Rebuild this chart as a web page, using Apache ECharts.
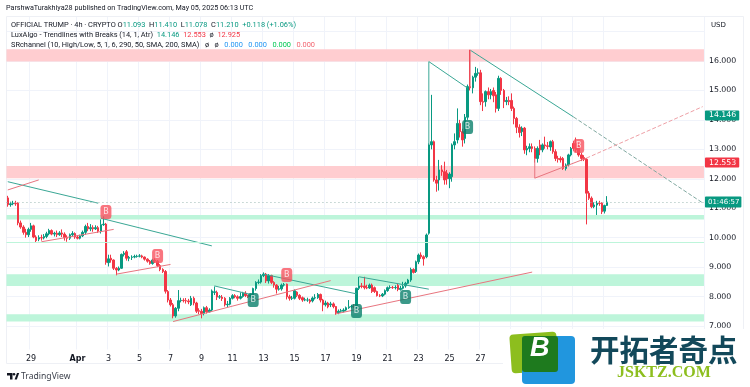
<!DOCTYPE html>
<html><head><meta charset="utf-8">
<style>html,body{margin:0;padding:0;background:#fff}#c{width:750px;height:387px}</style>
<script src="https://cdn.jsdelivr.net/npm/echarts@6/dist/echarts.min.js"></script>
</head><body><div id="c"></div>
<script>
// Each bar: [open, close, high, low], 4h candles.
const barsLateMarch = [
[11.35,11.12,11.42,11.05],[11.12,11.15,11.22,11.05],[11.15,11.17,11.25,11.10],[11.17,11.15,11.25,11.08],
[11.17,10.5,11.2,10.42],[10.5,10.36,10.58,10.3],[10.36,10.18,10.42,10.1],[10.18,10.1,10.3,10.0],
[10.1,10.28,10.34,10.02],[10.28,10.4,10.5,10.2],[10.4,10.02,10.44,9.98],[10.02,9.9,10.08,9.82],
[9.95,10.0,10.08,9.88],[10.0,9.99,10.1,9.9],[9.99,10.04,10.12,9.94],[10.04,10.13,10.2,9.98],
[10.13,10.24,10.3,10.08],[10.24,10.12,10.28,10.08],[10.12,10.15,10.2,10.04],[10.15,10.1,10.24,10.02],
[10.1,10.16,10.22,10.06],[10.16,10.12,10.28,10.02],[10.12,10.0,10.18,9.9],[10.0,9.98,10.08,9.86],
[9.98,10.1,10.14,9.92],[10.1,10.14,10.22,10.04],[10.14,10.02,10.18,9.96]];
const barsEarlyApril = [
[10.02,9.98,10.08,9.94],[9.98,10.06,10.1,9.94],[10.06,10.18,10.24,10.02],[10.18,10.38,10.44,10.1],
[10.38,10.3,10.5,10.22],[10.3,10.34,10.46,10.22],[10.34,10.3,10.42,10.2],[10.3,10.34,10.42,10.26],
[10.34,10.22,10.4,10.16],[10.22,10.44,10.62,10.14],[10.44,10.46,10.72,10.4],[10.46,9.16,10.5,9.08],
[9.15,9.28,9.42,9.02],[9.3,9.24,9.42,9.15],[9.24,8.96,9.26,8.9],[8.96,8.9,9.0,8.72],
[8.9,8.96,9.02,8.86],[8.96,9.43,9.46,8.94],[9.43,9.47,9.54,9.36],[9.52,9.3,9.58,9.22],
[9.3,9.33,9.38,9.2],[9.33,9.34,9.4,9.24],[9.34,9.36,9.42,9.3],[9.36,9.37,9.42,9.32],
[9.37,9.38,9.44,9.33],[9.38,9.34,9.42,9.3],[9.34,9.27,9.36,9.22],[9.27,9.2,9.3,9.15],
[9.2,9.12,9.24,9.08],[9.12,9.24,9.28,9.08],[9.24,9.2,9.3,9.14],[9.2,9.05,9.24,9.0],
[9.05,8.92,9.1,8.86],[8.92,8.85,8.96,8.8],[8.85,8.18,8.9,8.1],[8.17,7.88,8.22,7.8],
[7.88,7.72,7.95,7.66],[7.72,7.34,7.78,7.26],[7.34,7.6,7.64,7.28],[7.6,7.86,8.22,7.5],
[7.86,7.87,7.96,7.8],[7.87,7.86,7.94,7.8],[7.86,7.85,7.95,7.76],[7.85,7.82,7.92,7.74],
[7.72,7.94,8.02,7.68],[7.94,7.78,8.0,7.7],[7.78,7.5,7.82,7.44],[7.52,7.5,7.6,7.4],
[7.5,7.42,7.58,7.26],[7.42,7.62,7.66,7.36],[7.62,7.48,7.68,7.42],[7.48,7.54,7.6,7.46],
[7.54,8.19,8.24,7.5]];
const barsMidApril = [
[8.14,8.16,8.34,8.05],[8.14,7.98,8.2,7.88],[7.98,7.99,8.05,7.92],[7.98,7.93,8.05,7.85],
[7.94,7.72,7.98,7.66],[7.72,7.74,7.85,7.64],[7.74,7.94,7.98,7.7],[7.94,8.03,8.08,7.9],
[8.03,7.99,8.08,7.94],[7.99,7.94,8.04,7.86],[7.94,8.0,8.14,7.9],[8.0,8.11,8.16,7.96],
[8.11,8.03,8.18,7.98],[8.03,8.0,8.06,7.95],[8.0,8.05,8.1,7.96],[8.05,8.27,8.3,8.0],
[8.27,8.48,8.52,8.2],[8.48,8.49,8.58,8.42],[8.49,8.71,8.76,8.44],[8.71,8.76,8.82,8.66],
[8.76,8.53,8.8,8.46],[8.53,8.71,8.76,8.44],[8.71,8.48,8.74,8.42],[8.48,8.39,8.52,8.3],
[8.39,8.25,8.42,8.1],[8.25,8.26,8.36,8.2],[8.26,8.39,8.44,8.2],[8.39,8.4,8.46,8.34],
[8.42,7.99,8.44,7.9],[7.99,7.94,8.06,7.86],[7.94,7.95,8.02,7.88],[7.94,8.2,8.24,7.9],
[8.15,8.04,8.18,7.98],[8.04,7.94,8.08,7.88],[7.96,7.88,8.0,7.82],[7.88,7.89,7.96,7.84],
[7.88,7.88,7.96,7.82],[7.88,7.82,7.92,7.76],[7.85,7.95,8.0,7.8],[7.95,7.96,8.08,7.9],
[7.96,8.07,8.12,7.92],[8.07,7.88,8.1,7.8],[7.88,7.72,7.92,7.5],[7.72,7.78,7.86,7.66],
[7.78,7.65,7.82,7.6]];
const barsLateApril = [
[7.72,7.75,7.82,7.64],[7.75,7.66,7.8,7.6],[7.66,7.45,7.68,7.38],[7.45,7.5,7.56,7.4],
[7.5,7.52,7.58,7.45],[7.5,7.54,7.6,7.46],[7.54,7.62,7.66,7.5],[7.62,7.65,7.88,7.58],
[7.65,7.66,7.72,7.6],[7.66,7.65,7.74,7.6],[7.65,8.28,8.3,7.6],[8.28,8.36,8.67,8.22],
[8.36,8.34,8.46,8.28],[8.36,8.3,8.67,8.24],[8.3,8.29,8.4,8.25],[8.29,8.39,8.44,8.26],
[8.39,8.17,8.44,8.12],[8.3,8.17,8.34,8.12],[8.17,8.03,8.2,8.0],[8.03,8.02,8.08,7.98],
[8.02,8.08,8.12,7.98],[8.08,8.2,8.24,8.04],[8.2,8.3,8.34,8.16],[8.3,8.31,8.38,8.26],
[8.31,8.3,8.36,8.26],[8.3,8.31,8.38,8.24],[8.38,8.24,8.44,8.18],[8.24,8.28,8.36,8.2],
[8.28,8.34,8.5,8.24],[8.36,8.45,8.5,8.3],[8.45,8.56,8.6,8.42],[8.56,8.92,8.98,8.5],
[8.92,8.82,8.96,8.78],[8.85,9.18,9.22,8.8],[9.18,9.41,9.46,9.1],[9.41,9.35,9.5,9.28],
[9.35,9.28,9.4,9.05]];
const barsPump = [
[9.35,10.09,10.14,9.3],[10.15,13.15,13.2,10.1],[13.15,13.26,14.85,13.0],[13.26,11.96,13.3,11.9],
[11.96,11.85,12.1,11.56],[11.96,12.3,12.64,11.6],[12.3,12.24,12.46,12.1],[12.24,11.96,12.58,11.8],
[12.19,12.0,12.3,11.8],[12.0,12.16,12.22,11.68],[12.07,13.15,13.2,11.9],[13.15,13.26,13.54,13.0],
[13.32,13.88,14.39,13.2],[13.88,13.6,14.0,13.4],[13.6,13.32,13.7,13.09],[13.37,14.09,14.2,13.2],
[14.09,15.13,15.2,14.0],[15.13,15.09,16.38,15.0],[15.09,15.45,15.5,14.9],[15.45,15.58,15.8,15.3],
[15.58,15.6,15.75,15.5],[15.6,14.62,15.7,14.5],[14.62,14.6,14.9,14.3],[14.62,14.96,15.0,14.45],
[14.96,14.85,15.1,14.7],[14.85,14.96,15.05,14.7],[15.0,14.82,15.1,14.6],[14.85,14.39,14.95,14.25],
[14.39,15.41,15.5,14.3],[15.41,15.0,15.45,14.85],[15.0,14.62,15.05,14.4],[14.62,14.66,14.78,14.5],
[14.66,14.62,14.8,14.5],[14.66,14.39,14.9,14.3],[14.39,14.05,14.45,13.85],[14.05,13.75,14.1,13.55],
[13.75,13.57,13.85,13.4],[13.6,13.72,13.78,13.45],[13.72,12.98,13.76,12.85],[12.98,13.03,13.12,12.8],
[13.03,13.09,13.2,12.9],[13.09,13.03,13.2,12.9],[13.03,12.69,13.1,12.55]];
const barsEarlyMay = [
[12.69,13.03,13.1,12.55],[13.15,12.98,13.32,12.8],[12.98,13.15,13.2,12.9],[13.15,13.12,13.43,13.02],
[13.12,13.1,13.25,13.0],[13.08,13.26,13.3,12.95],[13.26,12.92,13.32,12.85],[12.92,12.69,13.0,12.6],
[12.69,12.66,12.78,12.55],[12.69,12.64,12.76,12.55],[12.69,12.35,12.74,12.3],[12.35,12.47,12.52,12.28],
[12.47,12.81,12.85,12.42],[12.81,13.03,13.08,12.76],[13.2,13.03,13.28,12.95],[13.2,12.98,13.4,12.9],
[13.1,12.81,13.2,12.75],[12.81,12.69,12.88,12.6],[12.72,12.66,12.8,12.6],[12.66,11.51,12.7,10.45],
[11.51,11.34,11.58,11.28],[11.34,11.05,11.4,11.0],[11.05,11.11,11.2,11.0],[11.11,11.17,11.25,10.77],
[11.17,11.16,11.25,11.08],[11.17,10.88,11.2,10.8],[10.9,11.09,11.12,10.82],[11.093,11.21,11.41,11.078]];

const emptyFutureBars = 37;

// Tick labels on the time scale, with the bar each falls on.
const tickBars   = [9,27,39,51,63,75,87,99,111,123,135,147,159,171,183,195,207,219,231];
const tickLabels = ['29','Apr','3','5','7','9','11','13','15','17','19','21','23','25','27','29','May','3','5'];
const priceGridValues  = [7,8,9,10,11,12,13,14,15,16,17];
const priceLabelValues = [7,8,9,10,11,12,13,14,15,16];

// Support / resistance channels [top, bottom]
const resistanceBands = [[16.40,15.98],[12.43,12.02]];
const supportBands    = [[10.77,10.62],[8.76,8.36],[7.40,7.15]];
const thinSupportLevel = 9.83;

// Trendlines as [bar, price]
const tealSolid = [
  [[0,11.90],[35,11.17]],
  [[36,10.66],[79,9.72]],
  [[80,8.36],[95,8.05]],
  [[99,8.76],[135,8.09]],
  [[136,8.67],[163,8.25]],
  [[163,13.15],[163,15.98],[178,15.08]],
  [[179,16.37],[219,14.10]]
];
const tealDashed = [[[219,14.10],[269,11.18]]];
const pinkSolid = [
  [[0,11.62],[12,11.96]],
  [[13,9.86],[41,10.28]],
  [[42,8.76],[63,9.09]],
  [[64,7.15],[125,8.54]],
  [[127,7.41],[203,8.83]],
  [[179,15.1],[179,16.37]],
  [[204,12.69],[204,12.02],[224,12.70]]
];
const pinkDashed = [[[224,12.70],[269,14.45]]];

// Break markers [bar, price]
const breakDown = [[38,10.87],[58,9.38],[108,8.73],[221,13.11]];
const breakUp   = [[95,7.88],[135,7.51],[154,7.98],[178,13.76]];

// Price tags on the scale
const upperTrendValue = 14.146, lowerTrendValue = 12.553, lastPrice = 11.21;
const countdown = '01:46:57';

const UP='#089981', DOWN='#F23645';
const TEXT_FONT='7.4px Roboto';
const bars = [].concat(barsLateMarch,barsEarlyApril,barsMidApril,barsLateApril,barsPump,barsEarlyMay);
const categories = [];
for (let i=0;i<bars.length+emptyFutureBars;i++) categories.push(String(i));
const tickLabelByBar = {}; tickBars.forEach((b,i)=>tickLabelByBar[b]=tickLabels[i]);
const isTick = i => tickLabelByBar[i] !== undefined;

function trendSeries(list,color,type,width,opacity){
  return list.map(d=>({type:'line',data:d,showSymbol:false,silent:true,z:4,animation:false,
    lineStyle:{color,width,type,opacity}}));
}
function breakSeries(data,color){
  return {type:'scatter',data,symbol:'roundRect',symbolSize:[11,14],z:6,silent:true,
    itemStyle:{color},
    label:{show:true,position:'inside',formatter:'B',color:'#fff',fontSize:8,fontFamily:'DejaVu Sans'}};
}
const tag=(v,text,bg,size,pad,line)=>({yAxis:v,label:{show:true,position:'end',distance:1,formatter:text,
  backgroundColor:bg,color:'#fff',fontSize:size,fontFamily:'DejaVu Sans',padding:pad,borderRadius:1},
  lineStyle:line||{color:'rgba(0,0,0,0)',width:1}});

const opt={
  animation:false,backgroundColor:'#fff',
  grid:{left:6.46,width:697.5,top:16.84,height:332.67,containLabel:false},
  xAxis:{type:'category',data:categories,boundaryGap:true,
    axisLine:{show:false},
    axisTick:{show:false,alignWithLabel:true,interval:i=>isTick(i)},
    splitLine:{show:true,interval:i=>isTick(i),lineStyle:{color:'#F0F3FA',width:1}},
    axisLabel:{interval:i=>isTick(i),margin:5,fontSize:8,color:'#131722',fontFamily:'DejaVu Sans',hideOverlap:false,
      formatter:v=>{const t=tickLabelByBar[+v];return t==='Apr'||t==='May'?'{b|'+t+'}':(t||'');},
      rich:{b:{fontWeight:'bold',fontSize:8,color:'#131722',fontFamily:'DejaVu Sans'}}}},
  yAxis:{type:'value',position:'right',min:6.2,max:17.5,scale:true,
    axisLine:{show:false},
    axisTick:{show:false,customValues:priceGridValues},
    splitLine:{show:true,lineStyle:{color:'#F0F3FA',width:1}},
    axisLabel:{customValues:priceLabelValues,margin:5,fontSize:7.8,color:'#131722',fontFamily:'DejaVu Sans',
      formatter:v=>Number(v).toFixed(3)}},
  series:[
    {type:'line',data:[],z:1,silent:true,markArea:{silent:true,itemStyle:{color:'#FFCDD0'},
      data:resistanceBands.map(b=>[{yAxis:b[0]},{yAxis:b[1]}])}},
    {type:'line',data:[],z:1,silent:true,markArea:{silent:true,itemStyle:{color:'#BDF5DA'},
      data:supportBands.map(b=>[{yAxis:b[0]},{yAxis:b[1]}])},
      markLine:{silent:true,symbol:'none',label:{show:false},lineStyle:{color:'#BDF5DA',width:1,type:'solid'},
        data:[{yAxis:thinSupportLevel}]}},
    {type:'candlestick',z:3,silent:true,barWidth:2,
      data:bars.map(b=>[b[0],b[1],b[3],b[2]]),
      itemStyle:{color:UP,color0:DOWN,borderColor:UP,borderColor0:DOWN,borderColorDoji:UP,borderWidth:1},
      markLine:{silent:true,symbol:'none',animation:false,z:7,
        label:{show:false},
        data:[
          tag(lastPrice,countdown,UP,7,[2,2,2,3],{color:'#9ab8b2',width:1,type:[1,3]}),
          tag(upperTrendValue,'14.146',UP,7.8,[1,3,1,4]),
          tag(lowerTrendValue,'12.553',DOWN,7.8,[1,3,1,4])
        ]}},
    ...trendSeries(tealSolid,'#3aa795','solid',1,1),
    ...trendSeries(tealDashed,'#7fa8a0','dashed',1,1),
    ...trendSeries(pinkSolid,'#e8757f','solid',1,1),
    ...trendSeries(pinkDashed,'#eea0a6','dashed',1,1),
    breakSeries(breakDown,'#F7525F'),
    breakSeries(breakUp,'#0A7F6C')
  ],
  graphic:{elements:[
    {type:'rect',z:1,silent:true,shape:{x:6.5,y:16.5,width:737,height:347},style:{fill:'none',stroke:'#EEF0F5',lineWidth:1}},
    {type:'text',z:20,x:6,y:5,style:{text:'ParshwaTurakhiya28 published on TradingView.com, May 05, 2025 06:13 UTC',fill:'#131722',font:'7.2px Roboto'}},
    {type:'text',z:20,x:11,y:22,style:{fill:'#131722',font:TEXT_FONT,
      text:'OFFICIAL TRUMP · 4h · CRYPTO O{g|11.093}  H{g|11.410}  L{g|11.078}  C{g|11.210}  {g|+0.118 (+1.06%)}',
      rich:{g:{fill:UP,font:TEXT_FONT}}}},
    {type:'text',z:20,x:11,y:32,style:{fill:'#131722',font:TEXT_FONT,
      text:'LuxAlgo - Trendlines with Breaks (14, 1, Atr)  {g|14.146}  {r|12.553}  ø  {r|12.925}',
      rich:{g:{fill:UP,font:TEXT_FONT},r:{fill:DOWN,font:TEXT_FONT}}}},
    {type:'text',z:20,x:11,y:42,style:{fill:'#131722',font:TEXT_FONT,
      text:'SRchannel (10, High/Low, 5, 1, 6, 290, 50, SMA, 200, SMA)   ø   ø   {b|0.000}   {b|0.000}   {g|0.000}   {r|0.000}',
      rich:{b:{fill:'#2196F3',font:TEXT_FONT},g:{fill:'#00C853',font:TEXT_FONT},r:{fill:'#F26570',font:TEXT_FONT}}}},
    {type:'text',z:20,x:711,y:22,style:{text:'USD',fill:'#131722',font:'7px "DejaVu Sans"'}},
    // TradingView mark
    {type:'polygon',z:20,silent:true,shape:{points:[[7,373],[12.5,373],[12.5,379.5],[10,379.5],[10,375.5],[7,375.5]]},style:{fill:'#131722'}},
    {type:'circle',z:20,silent:true,shape:{cx:14,cy:374.3,r:1.3},style:{fill:'#131722'}},
    {type:'polygon',z:20,silent:true,shape:{points:[[14.6,379.5],[17,373],[19.2,373],[16.8,379.5]]},style:{fill:'#131722'}},
    {type:'text',z:20,x:21,y:372,style:{text:'TradingView',fill:'#3a3f4a',font:'8.6px "Noto Sans"'}},
    // Watermark
    {type:'rect',z:30,silent:true,shape:{x:503,y:329,width:247,height:58},style:{fill:'#fff'}},
    {type:'rect',z:31,silent:true,rotation:0.07,originX:534,originY:352,shape:{x:510.5,y:333,width:47,height:39,r:4},style:{fill:'#8DBE1E'}},
    {type:'rect',z:32,silent:true,shape:{x:522,y:336,width:53,height:48,r:4},style:{fill:'#2196DE'}},
    {type:'rect',z:33,silent:true,shape:{x:522,y:336,width:36,height:36,r:3},style:{fill:'#1E7A1E'}},
    {type:'text',z:34,x:530,y:335,style:{text:'B',fill:'#fff',font:'italic bold 27px "Liberation Sans"'}},
    {type:'text',z:34,x:590,y:335,style:{text:'开拓者奇点',fill:'#12485A',font:'bold 29.5px "Noto Sans CJK SC"'}},
    {type:'text',z:34,x:617,y:365,style:{text:'JSKTZ.COM',fill:'#8DBE1E',font:'bold 16px "Liberation Serif"'}}
  ]}
};
const chart=echarts.init(document.getElementById('c'),null,{renderer:'canvas'});
chart.setOption(opt);
</script></body></html>
